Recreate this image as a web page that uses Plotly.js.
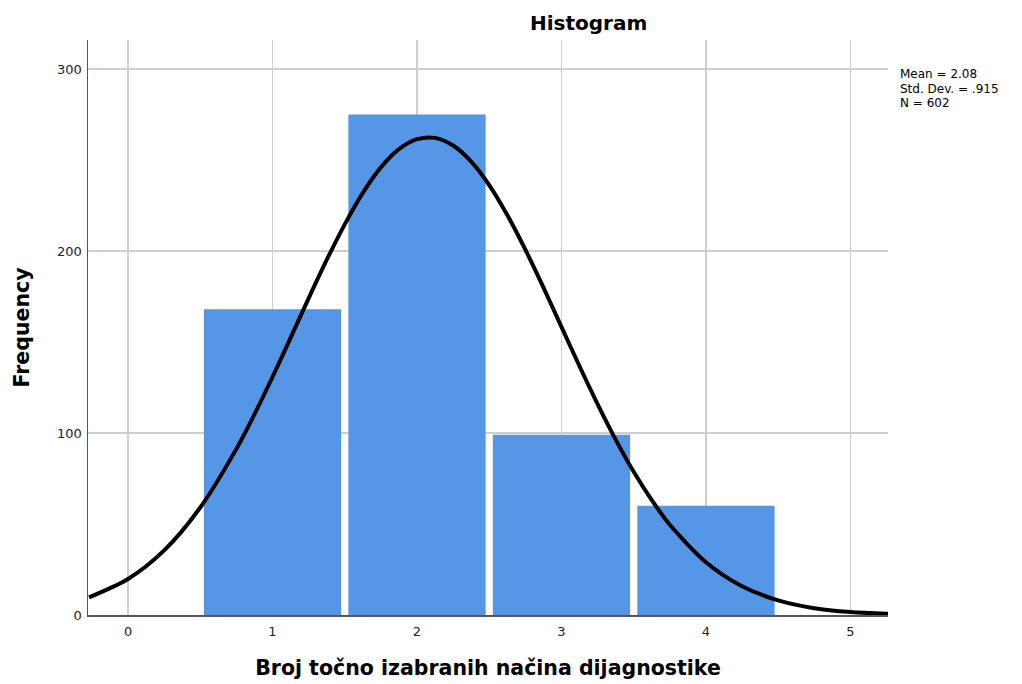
<!DOCTYPE html>
<html>
<head>
<meta charset="utf-8">
<script src="https://cdn.plot.ly/plotly-3.0.1.min.js"></script>
<style>html,body{margin:0;padding:0;background:#fff;} #chart{width:1022px;height:684px;}</style>
</head>
<body>
<div id="chart"></div>
<script>
// Histogram bins (category value) and frequencies
const binCenters = [1, 2, 3, 4];
const frequencies = [168, 275, 99, 60];

// Normal curve
const curveX = [-0.27, 0, 0.25, 0.5, 0.75, 0.875, 1, 1.125, 1.25, 1.375, 1.5, 1.625, 1.75, 1.875, 2, 2.125, 2.25, 2.375, 2.5, 2.625, 2.75, 2.875, 3, 3.125, 3.25, 3.375, 3.5, 3.625, 3.75, 4, 4.25, 4.5, 4.75, 5, 5.27];
const curveY = [9.7, 19.8, 35.5, 59.1, 91.3, 110.3, 130.8, 152.3, 174.0, 195.1, 214.7, 232.0, 246.0, 256.0, 261.5, 262.2, 258.0, 249.2, 236.3, 219.8, 200.8, 180.0, 158.3, 136.7, 115.9, 96.4, 78.7, 63.1, 49.6, 29.0, 15.8, 8.0, 3.7, 1.6, 0.6];

const xTicks = [0, 1, 2, 3, 4, 5];
const yTicks = [0, 100, 200, 300];
const statsLines = ["Mean = 2.08", "Std. Dev. = .915", "N = 602"];

const font = "DejaVu Sans, Verdana, sans-serif";

const traces = [
  {
    type: 'bar', x: binCenters, y: frequencies, width: 0.95,
    marker: {color: '#5596e6', line: {width: 0}},
    hoverinfo: 'x+y'
  },
  {
    type: 'scatter', mode: 'lines', x: curveX, y: curveY,
    line: {color: '#000000', width: 4, shape: 'spline', smoothing: 0.8},
    hoverinfo: 'skip'
  }
];

const layout = {
  width: 1022, height: 684,
  margin: {l: 88, r: 134, t: 40, b: 69},
  paper_bgcolor: '#ffffff', plot_bgcolor: '#ffffff',
  showlegend: false,
  title: {
    text: '<b>Histogram</b>', xref: 'container', x: 0.576, xanchor: 'center',
    yref: 'container', y: 0.967, yanchor: 'middle',
    font: {family: font, size: 20, color: '#000'}
  },
  xaxis: {
    range: [-0.277, 5.26], tickvals: xTicks, ticktext: xTicks.map(String),
    showgrid: true, gridcolor: '#cfcfcf', gridwidth: 1.5,
    zeroline: false, showline: true, linecolor: '#555555', linewidth: 1.5,
    ticks: 'outside', ticklen: 4, tickcolor: 'rgba(0,0,0,0)',
    tickfont: {family: font, size: 13, color: '#222'},
    title: {text: '<b>Broj točno izabranih načina dijagnostike</b>', standoff: 22,
            font: {family: font, size: 20.5, color: '#000'}}
  },
  yaxis: {
    range: [0, 316], tickvals: yTicks, ticktext: yTicks.map(String),
    showgrid: true, gridcolor: '#cfcfcf', gridwidth: 1.5,
    zeroline: false, showline: true, linecolor: '#555555', linewidth: 1.5,
    ticks: 'outside', ticklen: 2, tickcolor: 'rgba(0,0,0,0)',
    tickfont: {family: font, size: 13, color: '#222'},
    title: {text: '<b>Frequency</b>', standoff: 22,
            font: {family: font, size: 20.5, color: '#000'}}
  },
  annotations: statsLines.map((t, i) => ({
    xref: 'paper', yref: 'paper', x: 1.014, y: (615 - 74 - i * 14.5) / 575,
    xanchor: 'left', yanchor: 'middle', align: 'left', showarrow: false,
    text: t, borderpad: 0,
    font: {family: font, size: 12, color: '#000'}
  }))
};

Plotly.newPlot('chart', traces, layout, {displayModeBar: false, staticPlot: true});
</script>
</body>
</html>
